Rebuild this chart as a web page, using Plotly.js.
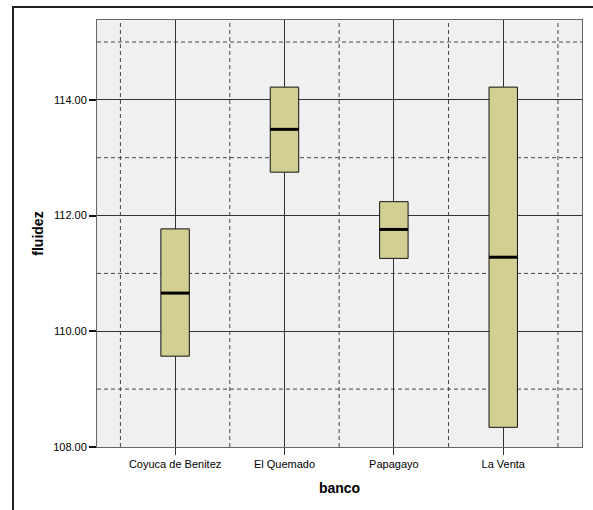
<!DOCTYPE html>
<html>
<head>
<meta charset="utf-8">
<script src="https://cdn.plot.ly/plotly-3.0.1.min.js"></script>
<style>
html,body{margin:0;padding:0;background:#fff;overflow:hidden;}
#frame{position:absolute;left:12px;top:6px;width:600px;height:520px;border:2px solid #222;box-sizing:border-box;pointer-events:none;z-index:5;}
#chart{position:absolute;left:0;top:0;width:593px;height:510px;}
</style>
</head>
<body>
<div id="chart"></div>
<div id="frame"></div>
<script>
var categories = ["Coyuca de Benitez", "El Quemado", "Papagayo", "La Venta"];
var q1Values = [109.57, 112.75, 111.26, 108.34];
var medianValues = [110.66, 113.49, 111.76, 111.28];
var q3Values = [111.77, 114.22, 112.24, 114.22];
var yTickValues = [108, 110, 112, 114];
var yTickLabels = ["108.00", "110.00", "112.00", "114.00"];
var yMinorValues = [109, 111, 113, 115];

var boxWidth = 0.26;

var trace = {
  type: 'box',
  x: categories,
  q1: q1Values,
  median: medianValues,
  q3: q3Values,
  lowerfence: q1Values,
  upperfence: q3Values,
  width: boxWidth,
  whiskerwidth: 0,
  fillcolor: '#D3CF93',
  line: {color: '#111', width: 1},
  hoverinfo: 'skip',
  showlegend: false
};

var shapes = [];
for (var i = 0; i <= categories.length; i++) {
  shapes.push({type:'line', xref:'x', yref:'paper', x0:i-0.5, x1:i-0.5, y0:0, y1:1,
    line:{color:'#444', width:1, dash:'4px,3px'}, layer:'below'});
}
yMinorValues.forEach(function(v){
  shapes.push({type:'line', xref:'paper', yref:'y', x0:0, x1:1, y0:v, y1:v,
    line:{color:'#444', width:1, dash:'4px,3px'}, layer:'below'});
});
medianValues.forEach(function(m, i){
  shapes.push({type:'line', xref:'x', yref:'y', x0:i-boxWidth/2, x1:i+boxWidth/2, y0:m, y1:m,
    line:{color:'#000', width:3}, layer:'above'});
});

var layout = {
  width: 593,
  height: 510,
  margin: {l:97, r:11, t:20, b:63},
  paper_bgcolor: '#ffffff',
  plot_bgcolor: '#F0F0F0',
  font: {family: 'Liberation Sans, Arial, sans-serif', size: 11, color: '#000'},
  xaxis: {
    type: 'category',
    range: [-0.714, 3.72],
    showgrid: true,
    gridcolor: '#333',
    gridwidth: 1,
    showline: true,
    mirror: true,
    linecolor: '#666',
    linewidth: 1,
    ticks: 'outside',
    ticklen: 7,
    tickcolor: '#333',
    tickfont: {size: 11},
    zeroline: false,
    fixedrange: true,
    title: {text: '<b>banco</b>', font: {size: 14, color:'#000'}, standoff: 13}
  },
  yaxis: {
    range: [108, 115.38],
    tickvals: yTickValues,
    ticktext: yTickLabels,
    showgrid: true,
    gridcolor: '#333',
    gridwidth: 1,
    showline: true,
    mirror: true,
    linecolor: '#666',
    linewidth: 1,
    ticks: 'outside',
    ticklen: 7,
    tickcolor: '#111',
    tickwidth: 2,
    zeroline: false,
    fixedrange: true,
    title: {text: '<b>fluidez</b>', font: {size: 14, color:'#000'}, standoff: 6}
  },
  shapes: shapes
};

Plotly.newPlot('chart', [trace], layout, {displayModeBar: false, staticPlot: true});
</script>
</body>
</html>
